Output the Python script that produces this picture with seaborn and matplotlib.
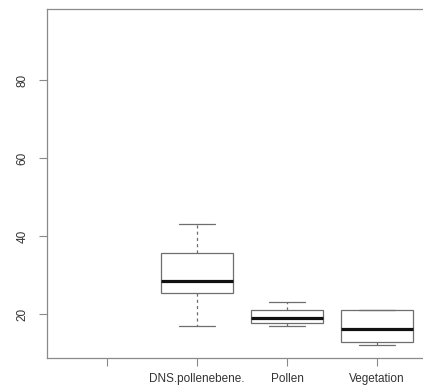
import numpy as np
import pandas as pd
import matplotlib
matplotlib.use("Agg")
import matplotlib.pyplot as plt
import seaborn as sns

# Kategorien (die erste Position ist leer, ohne Box)
order = ["leer", "DNS.pollenebene.", "Pollen", "Vegetation"]
tick_labels = ["", "DNS.pollenebene.", "Pollen", "Vegetation"]

# Fuenf-Punkte-Zusammenfassung je Gruppe (min, Q1, Median, Q3, max)
dns_vals = [17.0, 25.4, 28.5, 35.6, 43.1]
pollen_vals = [17.0, 17.9, 19.0, 21.0, 23.1]
veg_vals = [12.1, 13.0, 16.2, 21.0, 21.0]

yticks = [20, 40, 60, 80]

df = pd.DataFrame({
    "gruppe": ["DNS.pollenebene."] * len(dns_vals) + ["Pollen"] * len(pollen_vals)
              + ["Vegetation"] * len(veg_vals),
    "wert": dns_vals + pollen_vals + veg_vals,
})

sns.set_style("white")
plt.rcParams["font.family"] = ["Liberation Sans", "DejaVu Sans"]

fig = plt.figure(figsize=(4.23, 3.86), dpi=100)
ax = fig.add_axes([47 / 423, 28 / 386, 384 / 423, 349 / 386])

edge = "#6e6e6e"
sns.boxplot(
    data=df, x="gruppe", y="wert", order=order, ax=ax,
    color="white", linecolor=edge, linewidth=0.9, width=0.8, whis=1.5,
    medianprops=dict(color="#111111", linewidth=2.3),
    whiskerprops=dict(color=edge, linestyle=(0, (2.5, 2.5)), linewidth=0.9),
    capprops=dict(color=edge, linewidth=0.9),
    boxprops=dict(edgecolor=edge, facecolor="white", linewidth=0.9),
    showfliers=False,
)

ax.set_xlim(-0.667, 3.6)
ax.set_ylim(8.8, 98.3)
ax.set_xticks(range(len(order)))
ax.set_xticklabels(tick_labels, fontsize=8.5, color="#333333")
ax.set_yticks(yticks)
ax.set_yticklabels([str(v) for v in yticks], fontsize=8.5, color="#333333",
                   rotation=90, va="center")
ax.set_xlabel("")
ax.set_ylabel("")

for s in ax.spines.values():
    s.set_color("#8a8a8a")
    s.set_linewidth(0.9)
    s.set_visible(True)

ax.tick_params(axis="both", which="major", direction="out", length=5.5,
               width=0.8, color="#8a8a8a", bottom=True, left=True)
ax.tick_params(axis="x", pad=5)
ax.tick_params(axis="y", pad=8)

fig.savefig("out.png", dpi=100)
